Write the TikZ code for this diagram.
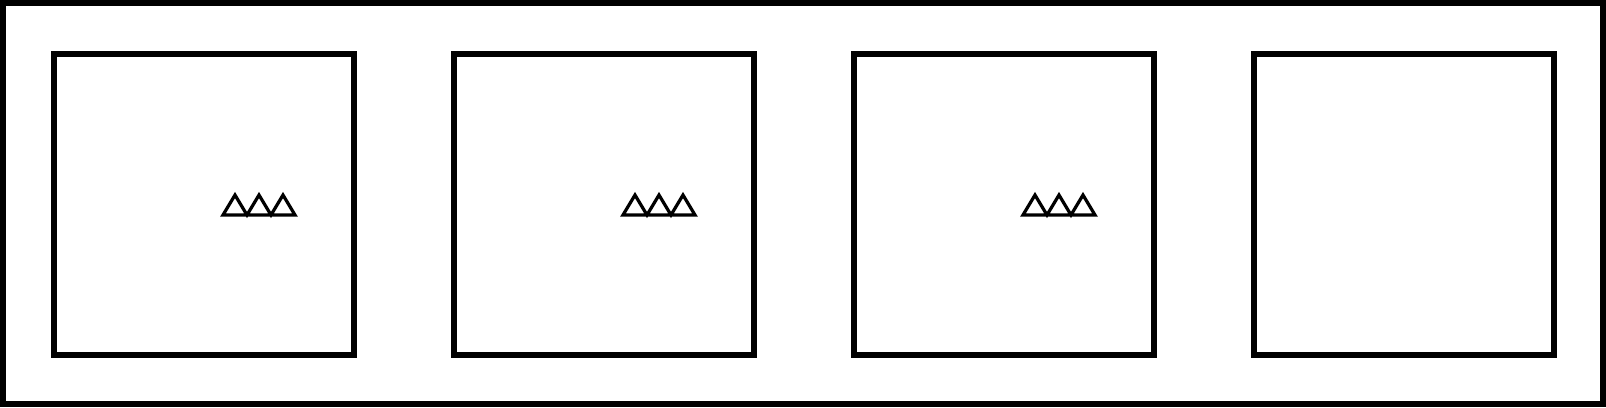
\documentclass[tikz,border=0pt]{standalone}
\usetikzlibrary{calc}
\begin{document}
\begin{tikzpicture}[x=0.75pt,y=-0.75pt,
  framebox/.style={draw=black,line width=4.5pt,fill=white},
  panel/.style={draw=black,line width=4.5pt,minimum width=225pt,minimum height=225.75pt,inner sep=0pt,outer sep=0pt},
  tri/.style={draw=black,line width=2.4pt,line join=miter}]
\useasboundingbox (0,0) rectangle (1606,407);
\draw[framebox] (3,3) rectangle (1603,404);
\node[panel] (b1) at (204,204.5) {};
\node[panel] (b2) at (604,204.5) {};
\node[panel] (b3) at (1004,204.5) {};
\node[panel] (b4) at (1404,204.5) {};
\foreach \b in {b1,b2,b3} {
  \coordinate (t\b) at ($(\b.west)+(169,10.5)$);
  \draw[tri] (t\b) -- ++(12,-20) -- ++(12,20) -- ++(12,-20) -- ++(12,20) -- ++(12,-20) -- ++(12,20) -- cycle;
}
\end{tikzpicture}
\end{document}
